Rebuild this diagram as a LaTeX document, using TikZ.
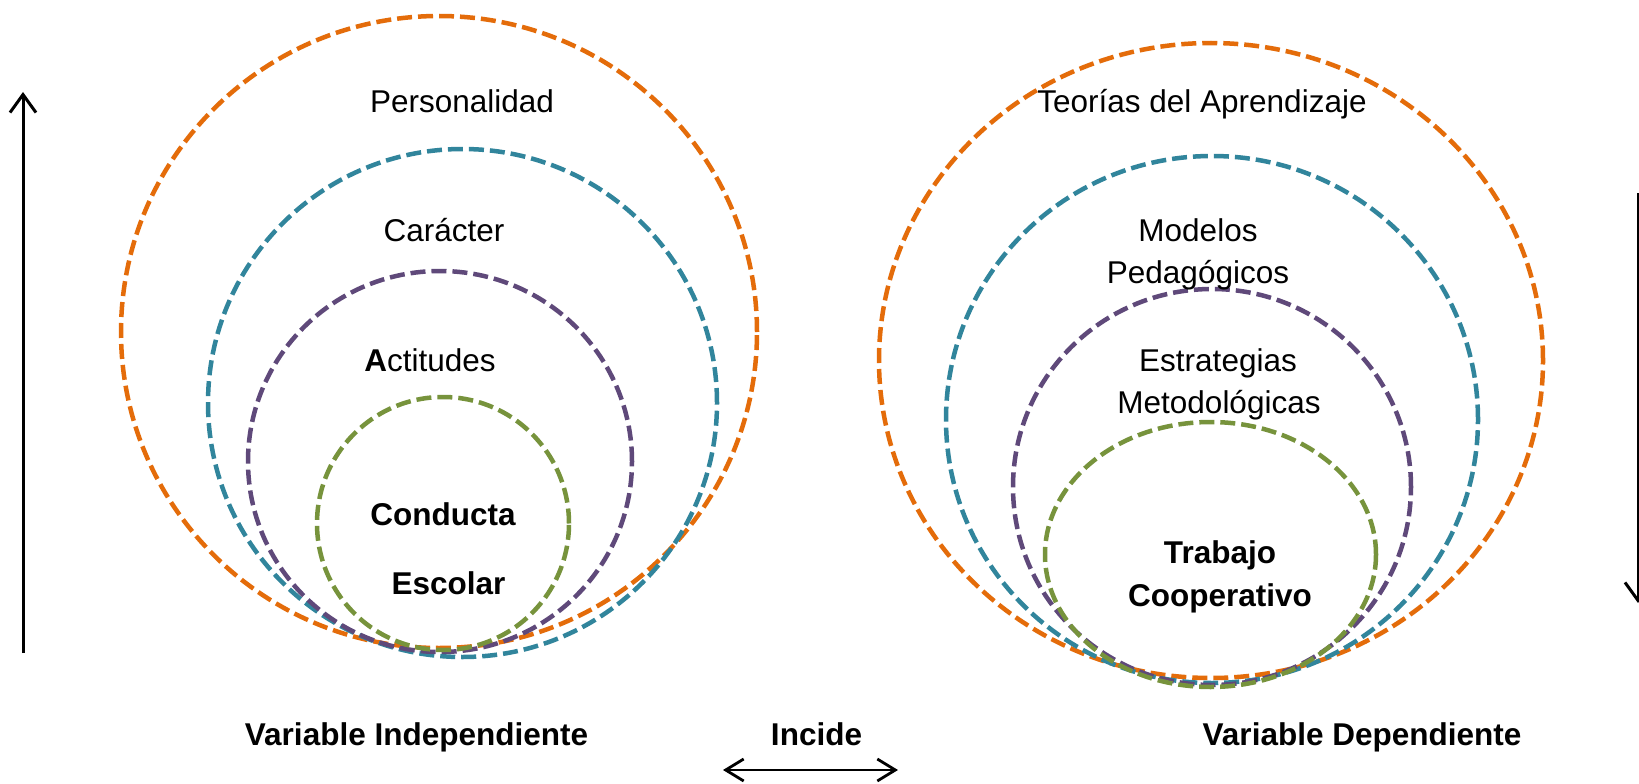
\documentclass[tikz,border=0pt]{standalone}
\usepackage{fontspec}
\setmainfont{Liberation Sans}
\usetikzlibrary{arrows.meta}
\definecolor{corange}{HTML}{E46C0A}
\definecolor{cteal}{HTML}{31859C}
\definecolor{cpurple}{HTML}{5F497A}
\definecolor{cgreen}{HTML}{77933C}
\tikzset{
  ring/.style={line width=4.5pt, dash pattern=on 15pt off 6pt},
  lbl/.style={inner sep=0pt, anchor=base, font=\fontsize{31.5}{38}\selectfont, text=black},
  blbl/.style={lbl, font=\fontsize{31.5}{38}\selectfont\bfseries},
  arr/.style={line width=3pt, -{Straight Barb[length=18pt,width=26pt,line width=3pt]}},
  darr/.style={line width=2.8pt, {Straight Barb[length=18pt,width=22pt,line width=2.8pt]}-{Straight Barb[length=18pt,width=22pt,line width=2.8pt]}}
}
\begin{document}
\begin{tikzpicture}[x=1pt,y=-1pt]
\useasboundingbox (0,0) rectangle (1639,784);
\fill[white] (0,0) rectangle (1639,784);
% left group
\draw[ring, corange] (439,332) ellipse [x radius=318pt, y radius=316pt];
\draw[ring, cteal] (462.5,403) ellipse [x radius=254.5pt, y radius=254pt];
\draw[ring, cpurple] (440,461.5) ellipse [x radius=192pt, y radius=190.5pt];
\draw[ring, cgreen] (443,523.5) ellipse [x radius=126pt, y radius=126.5pt];
% right group
\draw[ring, corange] (1211,360.5) ellipse [x radius=332pt, y radius=317.5pt];
\draw[ring, cteal] (1212,419.5) ellipse [x radius=266pt, y radius=263.5pt];
\draw[ring, cpurple] (1212,487) ellipse [x radius=199pt, y radius=198pt];
\draw[ring, cgreen] (1210.5,554.5) ellipse [x radius=165.5pt, y radius=132.5pt];
% labels left
\node[lbl] (pers) at (462,113) {Personalidad};
\node[lbl] (car) at (444,241.5) {Carácter};
\node[lbl] (act) at (430,371.5) {\textbf{A}ctitudes};
\node[blbl] (cond) at (443,525) {Conducta};
\node[blbl] (esc) at (448.5,594) {Escolar};
% labels right
\node[lbl] (teo) at (1202,113) {Teorías del Aprendizaje};
\node[lbl] (mod) at (1198,241.5) {Modelos};
\node[lbl] (ped) at (1198,283) {Pedagógicos};
\node[lbl] (est) at (1218,371.5) {Estrategias};
\node[lbl] (met) at (1219,413) {Metodológicas};
\node[blbl] (tra) at (1220,563) {Trabajo};
\node[blbl] (coo) at (1220,606.5) {Cooperativo};
% bottom labels
\node[blbl] (vi) at (416.5,745) {Variable Independiente};
\node[blbl] (inc) at (816.5,745) {Incide};
\node[blbl] (vd) at (1362,745) {Variable Dependiente};
% arrows
\coordinate (la1) at (23,653);
\coordinate (la2) at (23,92);
\draw[arr] (la1) -- (la2);
\coordinate (ra1) at (1638,193);
\coordinate (ra2) at (1638,603);
\draw[arr] (ra1) -- (ra2);
\coordinate (ba1) at (723,770);
\coordinate (ba2) at (898,770);
\draw[darr] (ba1) -- (ba2);
\end{tikzpicture}
\end{document}
